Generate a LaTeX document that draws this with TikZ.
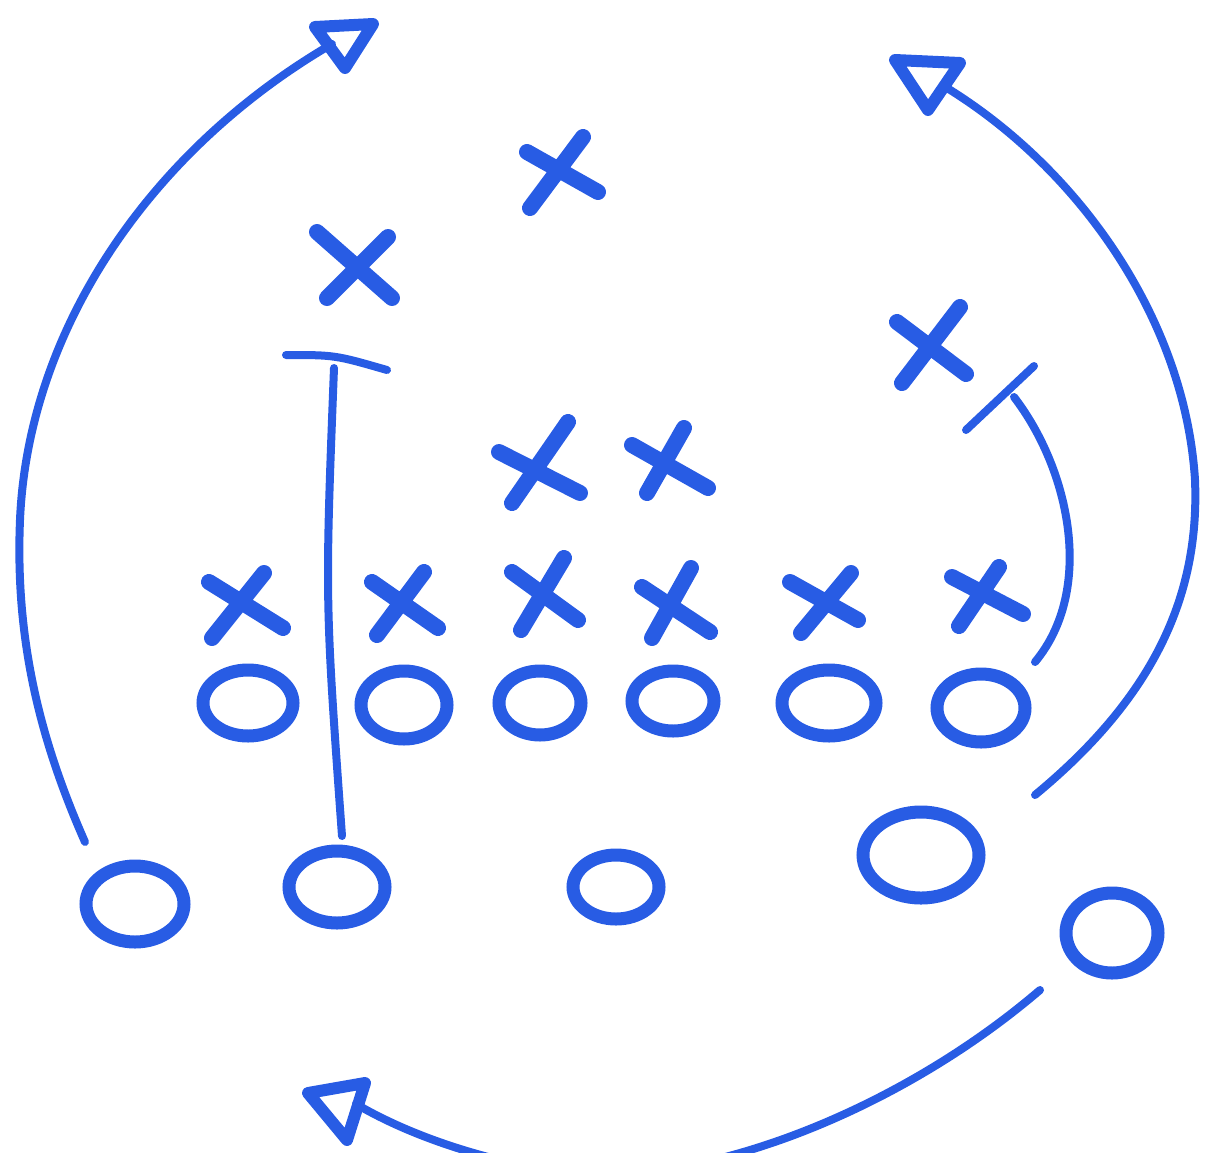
\documentclass[tikz,border=0pt]{standalone}
\usetikzlibrary{shapes.geometric}
\definecolor{pen}{RGB}{40,92,228}
\tikzset{
  xs/.style={draw=pen,line width=16pt,line cap=round},
  os/.style={ellipse,draw=pen,line width=13pt,inner sep=0pt},
  arr/.style={draw=pen,line width=8pt,line cap=round},
  tri/.style={draw=pen,line width=12pt,line join=round,line cap=round},
  blk/.style={draw=pen,line width=8pt,line cap=round}
}
\begin{document}
\begin{tikzpicture}[x=1pt,y=-1pt]
\useasboundingbox (0,0) rectangle (1207,1152);
% O line
\node[os,minimum width=90pt,minimum height=66pt] (o1) at (248,703) {};
\node[os,minimum width=86pt,minimum height=68pt] (o2) at (404,705) {};
\node[os,minimum width=82pt,minimum height=64pt] (o3) at (540,703) {};
\node[os,minimum width=82pt,minimum height=60pt] (o4) at (673,701) {};
\node[os,minimum width=94pt,minimum height=66pt] (o5) at (829,703) {};
\node[os,minimum width=88pt,minimum height=68pt] (o6) at (981,708) {};
% backs
\node[os,minimum width=98pt,minimum height=76pt] (o7) at (135,904) {};
\node[os,minimum width=96pt,minimum height=72pt] (o8) at (337,887) {};
\node[os,minimum width=86pt,minimum height=64pt] (o9) at (616,887) {};
\node[os,minimum width=116pt,minimum height=86pt] (o10) at (921,855) {};
\node[os,minimum width=92pt,minimum height=80pt] (o11) at (1112,933) {};
% X defenders
\draw[xs] (527,152) -- (598,192) (530,208) -- (583,137);
\draw[xs] (317,232) -- (392,298) (327,298) -- (388,237);
\draw[xs] (897,322) -- (966,374) (902,383) -- (960,307);
\draw[xs] (499,452) -- (580,493) (512,503) -- (568,422);
\draw[xs] (632,445) -- (708,488) (647,493) -- (684,428);
\draw[xs] (209,582) -- (283,628) (212,638) -- (264,573);
\draw[xs] (372,582) -- (438,628) (377,635) -- (424,572);
\draw[xs] (512,572) -- (578,620) (521,630) -- (564,558);
\draw[xs] (642,587) -- (710,632) (652,638) -- (691,568);
\draw[xs] (790,582) -- (858,620) (801,633) -- (851,573);
\draw[xs] (952,577) -- (1023,614) (959,626) -- (999,567);
% triangles (arrow heads)
\coordinate (t1) at (332,44);
\coordinate (t2) at (947,88);
\coordinate (t3) at (356,1104);
\draw[tri] (315,27) -- (373,24) -- (345,68) -- cycle;
\draw[tri] (895,60) -- (960,63) -- (928,110) -- cycle;
\draw[tri] (308,1093) -- (365,1083) -- (347,1140) -- cycle;
% routes
\coordinate (s1) at (85,842);
\draw[arr] (s1) .. controls (40,740) and (15,640) .. (20,520)
  .. controls (28,330) and (150,150) .. (t1);
\coordinate (s2) at (1035,795);
\draw[arr] (s2) .. controls (1150,700) and (1200,600) .. (1195,480)
  .. controls (1185,320) and (1080,170) .. (t2);
\coordinate (s3) at (1040,990);
\draw[arr] (s3) .. controls (900,1110) and (700,1190) .. (560,1172)
  .. controls (470,1158) and (400,1130) .. (t3);
% blocks
\coordinate (b1) at (342,836);
\draw[blk] (286,355) .. controls (335,355) .. (387,370);
\draw[blk] (334,368) .. controls (325,600) .. (b1);
\draw[blk] (966,430) -- (1034,366);
\coordinate (b2) at (1035,662);
\draw[blk] (1014,397) .. controls (1070,470) and (1095,590) .. (b2);
\end{tikzpicture}
\end{document}
